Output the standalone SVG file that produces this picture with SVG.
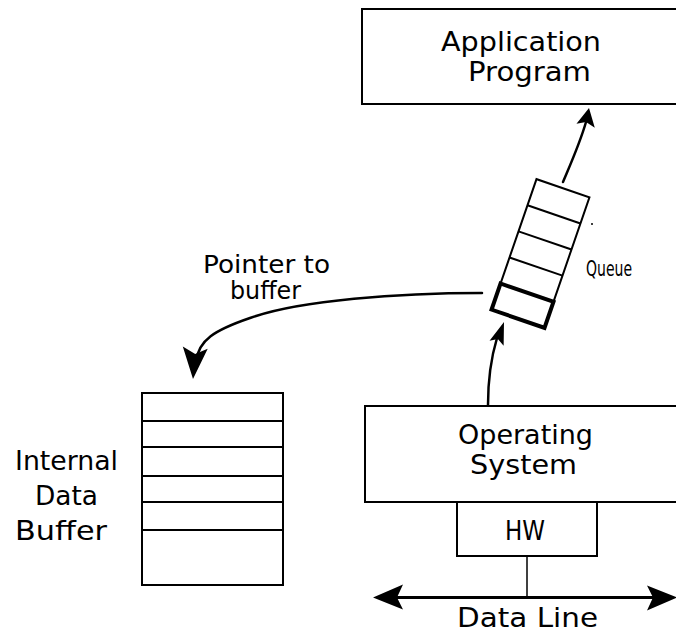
<svg xmlns="http://www.w3.org/2000/svg" width="676" height="634" viewBox="0 0 676 634">
  <style>
    .box { fill: #fff; stroke: #000; stroke-width: 2; }
    .cell { fill: none; stroke: #000; stroke-width: 2; }
    .lbl { font-family: "DejaVu Sans", "Liberation Sans", sans-serif; fill: #000; }
    .big { font-size: 27px; }
    .mid { font-size: 24px; }
    .sm { font-size: 21px; }
    .wire { fill: none; stroke: #000; stroke-width: 2.5; stroke-linecap: round; }
    .head { fill: #000; stroke: none; }
  </style>
  <defs>
    <!-- notched arrowhead pointing along +x, tip at origin -->
    <path id="ah" d="M0,0 L-30,-12 L-24,0 L-30,13 Z"/>
  </defs>

  <rect width="676" height="634" fill="#fff"/>

  <!-- Application Program -->
  <g id="app">
    <rect class="box" x="362" y="9" width="330" height="95"/>
    <text class="lbl big" x="441" y="51" textLength="160" lengthAdjust="spacingAndGlyphs">Application</text>
    <text class="lbl big" x="468" y="81" textLength="123" lengthAdjust="spacingAndGlyphs">Program</text>
  </g>

  <!-- Queue (tilted stack of five slots) -->
  <g id="queue">
    <g transform="translate(540.5,253.5) rotate(19)">
      <rect class="cell" x="-28" y="-69" width="56" height="138"/>
      <line class="cell" x1="-28" y1="-41.4" x2="28" y2="-41.4"/>
      <line class="cell" x1="-28" y1="-13.8" x2="28" y2="-13.8"/>
      <line class="cell" x1="-28" y1="13.8" x2="28" y2="13.8"/>
      <rect x="-28" y="41.4" width="56" height="27.6" fill="none" stroke="#000" stroke-width="4"/>
    </g>
    <circle cx="592" cy="224" r="1" fill="#000"/>
    <text class="lbl sm" x="586" y="276" textLength="46" lengthAdjust="spacingAndGlyphs">Queue</text>
  </g>

  <!-- Operating System -->
  <g id="os">
    <rect class="box" x="365" y="406" width="330" height="96"/>
    <text class="lbl big" x="458" y="444" textLength="135" lengthAdjust="spacingAndGlyphs">Operating</text>
    <text class="lbl big" x="470" y="474" textLength="107" lengthAdjust="spacingAndGlyphs">System</text>
  </g>

  <!-- HW -->
  <g id="hw">
    <rect class="box" x="457" y="502" width="140" height="54"/>
    <text class="lbl big" x="505" y="540" textLength="40" lengthAdjust="spacingAndGlyphs">HW</text>
  </g>

  <!-- Internal Data Buffer -->
  <g id="buffer">
    <rect class="box" x="142" y="393" width="141" height="192"/>
    <line class="cell" x1="142" y1="421" x2="283" y2="421"/>
    <line class="cell" x1="142" y1="447" x2="283" y2="447"/>
    <line class="cell" x1="142" y1="476" x2="283" y2="476"/>
    <line class="cell" x1="142" y1="502" x2="283" y2="502"/>
    <line class="cell" x1="142" y1="530" x2="283" y2="530"/>
    <text class="lbl big" x="15" y="470" textLength="103" lengthAdjust="spacingAndGlyphs">Internal</text>
    <text class="lbl big" x="35" y="505" textLength="63" lengthAdjust="spacingAndGlyphs">Data</text>
    <text class="lbl big" x="15" y="540" textLength="92" lengthAdjust="spacingAndGlyphs">Buffer</text>
  </g>

  <!-- Connectors -->
  <g id="connectors">
    <!-- queue to application -->
    <path class="wire" d="M563,182 C571,163 580,143 586,122"/>
    <use href="#ah" class="head" transform="translate(589,108) rotate(-78) scale(0.6,0.75)"/>

    <!-- operating system to queue -->
    <path class="wire" d="M488,405 C488,380 491,358 497,338"/>
    <use href="#ah" class="head" transform="translate(504,322) rotate(-70) scale(0.75,0.6)"/>

    <!-- pointer from queue slot to buffer -->
    <path class="wire" d="M482,293 C400,293 300,300 250,318 C215,330 198,340 196,362"/>
    <use href="#ah" class="head" transform="translate(193,379) rotate(95) scale(1.05,1)"/>
    <text class="lbl mid" x="203" y="273" textLength="127" lengthAdjust="spacingAndGlyphs">Pointer to</text>
    <text class="lbl mid" x="230" y="299" textLength="71" lengthAdjust="spacingAndGlyphs">buffer</text>

    <!-- HW tap onto data line -->
    <line x1="527" y1="556" x2="527" y2="597" stroke="#000" stroke-width="1.5"/>

    <!-- data line, both directions -->
    <line x1="392" y1="597.5" x2="660" y2="597.5" stroke="#000" stroke-width="3"/>
    <use href="#ah" class="head" transform="translate(373,597.5) rotate(180)"/>
    <use href="#ah" class="head" transform="translate(677,597.5)"/>
    <text class="lbl big" x="457" y="627" textLength="141" lengthAdjust="spacingAndGlyphs">Data Line</text>
  </g>
</svg>
